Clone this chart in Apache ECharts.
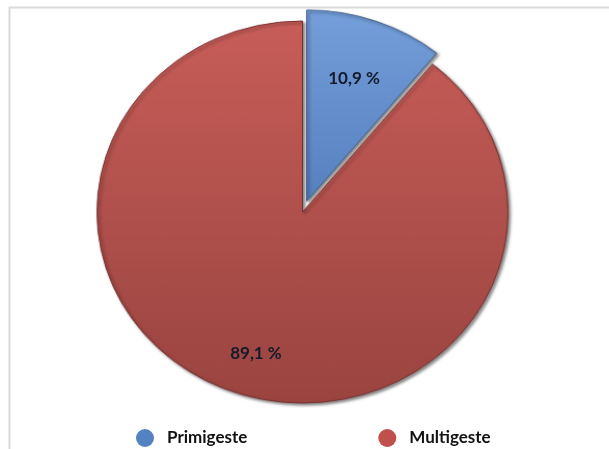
<!DOCTYPE html>
<html>
<head>
<meta charset="utf-8">
<title>Primigeste / Multigeste</title>
<script src="https://cdn.jsdelivr.net/npm/echarts@6/dist/echarts.min.js"></script>
<style>
  html, body { margin: 0; padding: 0; background: #ffffff; }
  #wrap { position: relative; width: 609px; height: 449px; overflow: hidden; }
  #pie, #overlay { position: absolute; left: 0; top: 0; width: 609px; height: 449px; }
  /* the pie is drawn slightly wider than tall */
  #pie { transform-origin: 302.5px 212px; transform: scale(1.038, 0.965); }
</style>
</head>
<body>
<div id="wrap">
  <div id="pie"></div>
  <div id="overlay"></div>
</div>
<script>
// Share of pregnant women by parity (percent)
const categories = ['Primigeste', 'Multigeste'];
const shares = [10.9, 89.1];
const sliceColors = [
  ['#749fda', '#5780bf', '#3e5f8f'],
  ['#c75d58', '#9a4440', '#773130']
];
const legendColors = ['#5282c2', '#bf504c'];

const fmt = v => v.toFixed(1).replace('.', ',') + ' %';

function sliceFill(c) {
  return {
    type: 'linear', x: 0, y: 0, x2: 0, y2: 1,
    colorStops: [
      { offset: 0, color: c[0] },
      { offset: 1, color: c[1] }
    ]
  };
}

const pieData = categories.map((name, i) => ({
  name: name,
  value: shares[i],
  selected: i === 0,
  itemStyle: {
    color: sliceFill(sliceColors[i]),
    borderColor: sliceColors[i][2],
    borderWidth: 1,
    shadowColor: 'rgba(0,0,0,0.45)',
    shadowBlur: 3,
    shadowOffsetX: 2,
    shadowOffsetY: 2
  }
}));

const labelData = categories.map((name, i) => ({ name: name, value: shares[i] }));

// Pie slices
const pieChart = echarts.init(document.getElementById('pie'), null, { renderer: 'canvas' });
pieChart.setOption({
  animation: false,
  backgroundColor: '#ffffff',
  series: [{
    type: 'pie',
    center: [302.5, 212],
    radius: [0, 198],
    startAngle: 90,
    clockwise: true,
    selectedMode: 'single',
    selectedOffset: 12,
    silent: true,
    label: { show: false },
    labelLine: { show: false },
    emphasis: { disabled: true },
    data: pieData
  }]
});

// Frame, percentage labels and legend
const overlay = echarts.init(document.getElementById('overlay'), null, { renderer: 'canvas' });
overlay.setOption({
  animation: false,
  backgroundColor: 'transparent',
  graphic: [{
    type: 'rect',
    shape: { x: 9.5, y: 7.5, width: 700, height: 600 },
    style: { fill: 'none', stroke: '#d9d9d9', lineWidth: 2 },
    silent: true
  }],
  legend: {
    data: categories.map((name, i) => ({
      name: name,
      icon: 'circle',
      itemStyle: { color: legendColors[i], borderWidth: 0 }
    })),
    left: 131,
    top: 424,
    itemWidth: 18,
    itemHeight: 18,
    itemGap: 131,
    selectedMode: false,
    textStyle: {
      fontFamily: 'Lato',
      fontSize: 17,
      fontWeight: 'bold',
      color: '#111111',
      padding: [0, 0, 0, 8]
    }
  },
  series: [{
    // transparent ring that only carries the percentage labels
    type: 'pie',
    center: [305, 216],
    radius: [89, 197],
    startAngle: 90,
    clockwise: true,
    silent: true,
    itemStyle: { color: 'rgba(0,0,0,0)' },
    emphasis: { disabled: true },
    label: {
      show: true,
      position: 'inside',
      formatter: p => fmt(p.value),
      fontFamily: 'Lato',
      fontSize: 17,
      fontWeight: 'bold',
      color: '#161b2b'
    },
    labelLine: { show: false },
    data: labelData
  }]
});
</script>
</body>
</html>
